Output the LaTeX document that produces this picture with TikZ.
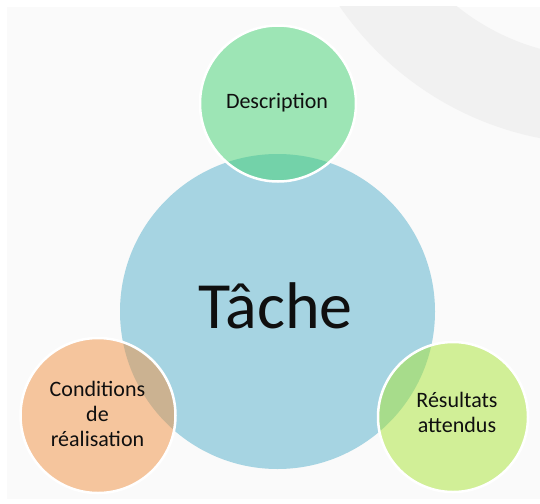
\documentclass[tikz,border=0pt]{standalone}
\usepackage{fontspec}
\setmainfont{Carlito}
\definecolor{bgin}{RGB}{250,250,250}
\definecolor{band}{RGB}{241,241,241}
\definecolor{tblue}{RGB}{166,212,226}
\definecolor{cgreen}{RGB}{65,209,113}
\definecolor{corange}{RGB}{241,145,65}
\definecolor{clime}{RGB}{169,229,53}
\definecolor{txt}{RGB}{15,15,15}
\begin{document}
\begin{tikzpicture}[x=1pt,y=-1pt,
  bigc/.style={circle,inner sep=0pt,fill=tblue},
  smallc/.style={circle,inner sep=0pt,draw=white,line width=2.5pt,fill opacity=0.5,draw opacity=1},
  lbl/.style={inner sep=0pt,text=txt,font=\fontsize{22}{25}\selectfont,align=center}]
\useasboundingbox (0,0) rectangle (540,503);
\fill[white] (0,0) rectangle (540,503);
\fill[bgin] (7,7) rectangle (540,499);
\begin{scope}
  \clip (7,7) rectangle (540,499);
  \fill[band,even odd rule] (601,-173) circle[radius=317] (601,-173) circle[radius=230];
\end{scope}
\node[bigc,minimum size=315pt] (tache) at (277.5,311.5) {};
\node[smallc,fill=cgreen,minimum size=156pt] (desc) at (278,103.5) {};
\node[smallc,fill=corange,minimum size=155pt] (cond) at (98,415.5) {};
\node[smallc,fill=clime,minimum size=150pt] (res) at (453,417) {};
\node[inner sep=0pt,text=txt,font=\fontsize{66}{72}\selectfont,anchor=base] (ttache) at (275.5,328) {Tâche};
\node[lbl,anchor=base] (tdesc) at (277,108) {Description};
\node[lbl] (tcond) at (97.5,414.3) {Conditions\\de\\réalisation};
\node[lbl] (tres) at (457,412.5) {Résultats\\attendus};
\end{tikzpicture}
\end{document}
